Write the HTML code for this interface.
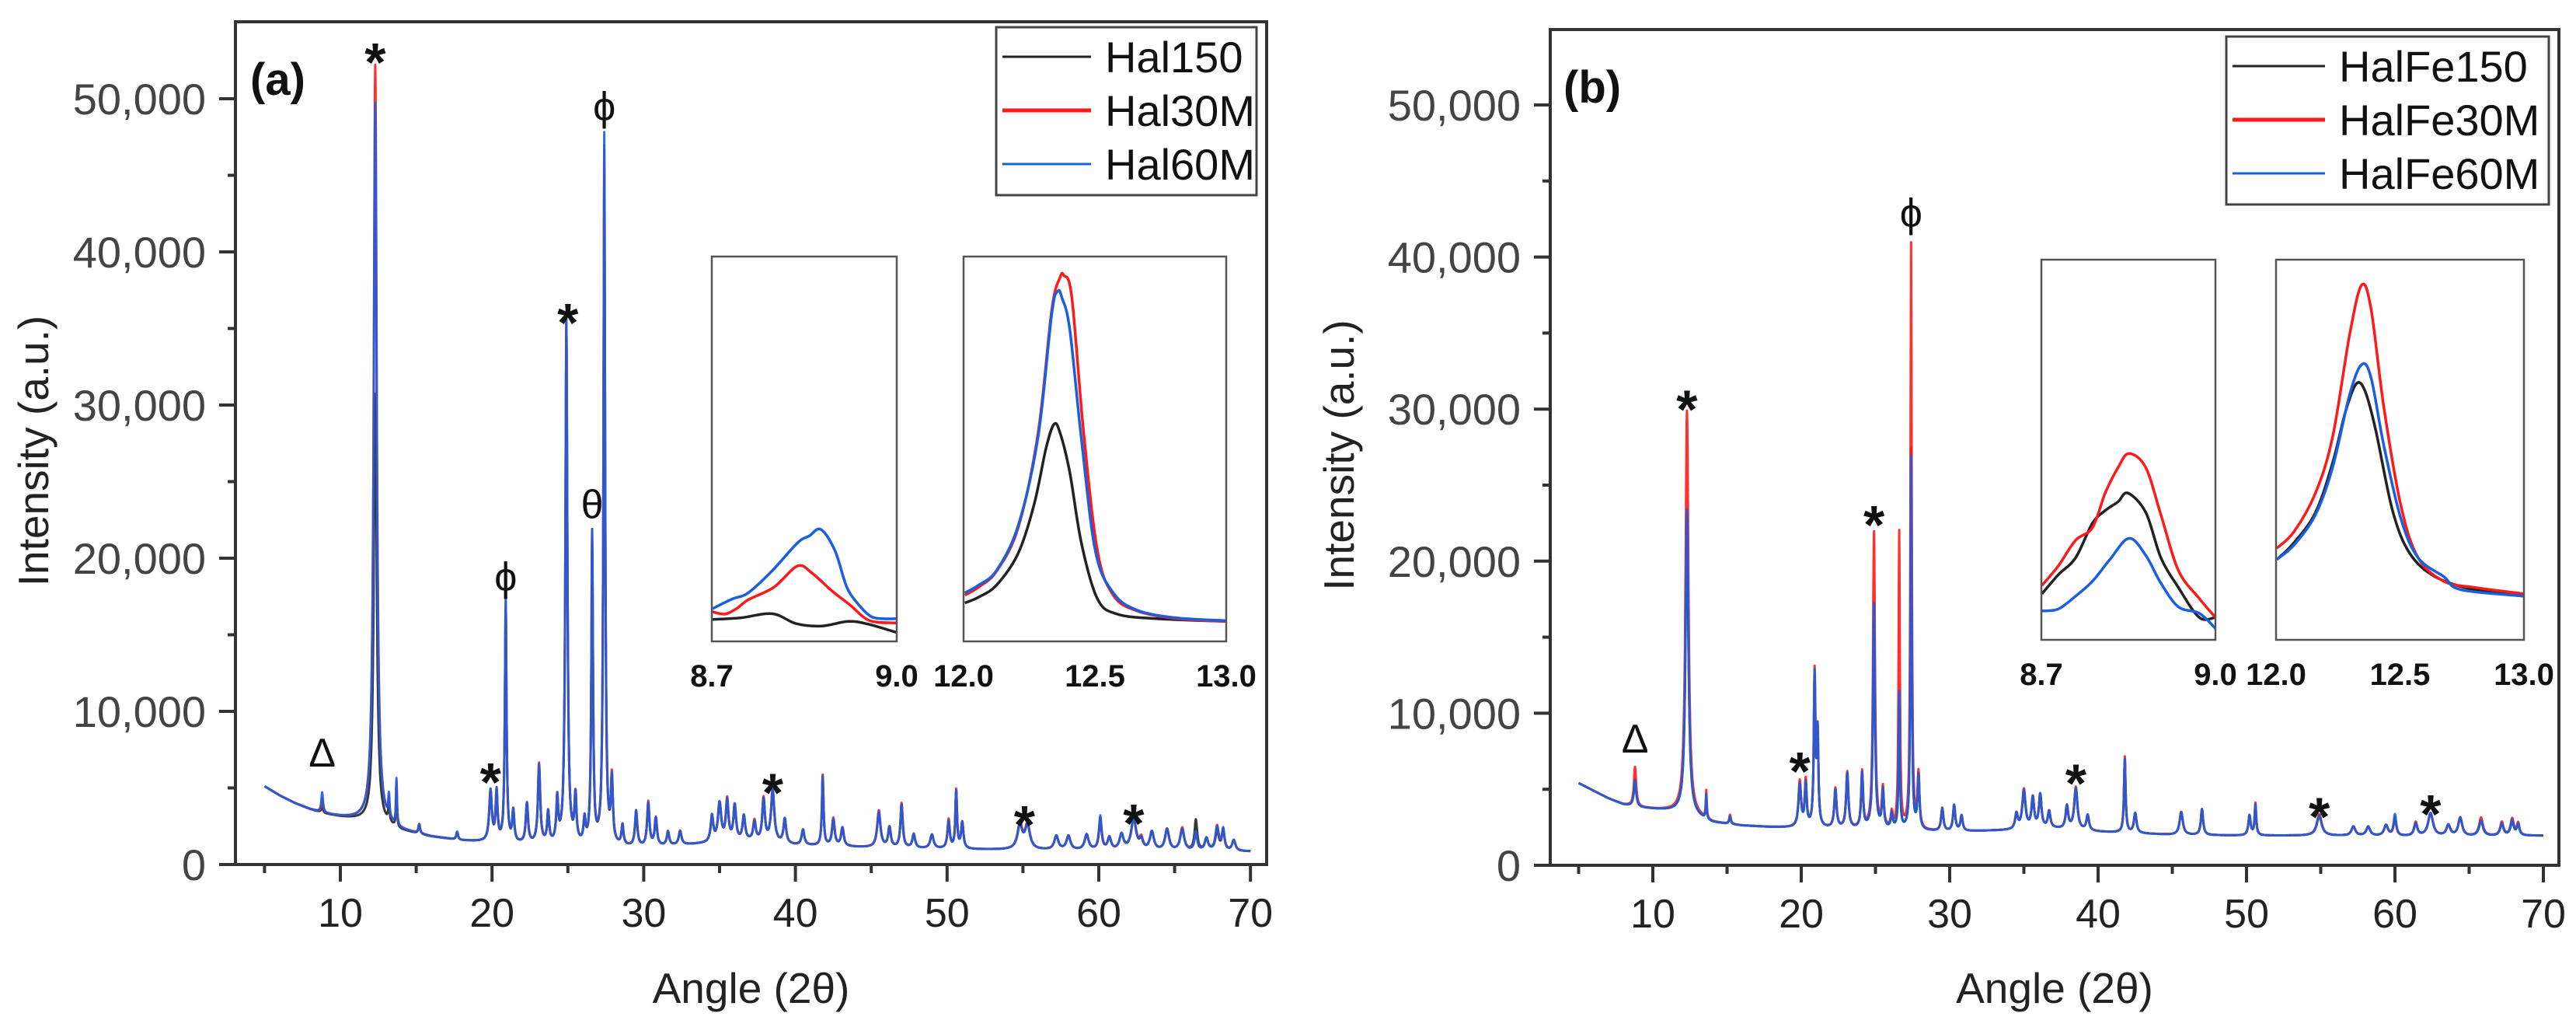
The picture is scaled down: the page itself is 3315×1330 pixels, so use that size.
<!DOCTYPE html>
<html><head><meta charset="utf-8"><style>
html,body{margin:0;padding:0;background:#fff;}
svg{display:block;font-family:"Liberation Sans",sans-serif;}
</style></head><body>
<svg id="fig" width="3315" height="1330" viewBox="0 0 3315 1330" xmlns="http://www.w3.org/2000/svg"></svg>
<script>
// ===== Panel (a) data =====
const posA=[8.8,12.3,13.2,13.7,15.2,17.7,19.9,20.3,20.9,21.4,22.3,23.1,23.7,24.3,24.9,25.5,26.1,26.6,27.4,27.9,28.6,29.5,30.3,30.8,31.6,32.4,34.5,35.0,35.5,36.0,36.6,37.3,37.9,38.5,39.3,40.5,41.8,42.5,43.1,45.5,46.2,47.0,47.8,49.0,50.1,50.6,51.0,54.8,55.3,57.2,58.0,59.2,60.1,60.7,61.5,62.3,62.8,63.5,64.5,65.5,66.4,67.1,67.8,68.2,68.9];
const widA=[0.05,0.09,0.04,0.03,0.05,0.05,0.08,0.06,0.05,0.06,0.07,0.07,0.06,0.06,0.06,0.06,0.06,0.05,0.05,0.06,0.06,0.07,0.07,0.07,0.07,0.08,0.08,0.1,0.08,0.08,0.08,0.08,0.08,0.1,0.08,0.08,0.05,0.08,0.08,0.1,0.08,0.07,0.08,0.1,0.07,0.05,0.07,0.15,0.15,0.12,0.12,0.12,0.08,0.1,0.12,0.15,0.1,0.12,0.12,0.12,0.08,0.1,0.1,0.08,0.1];
const blackA=[400,28000,1200,2500,600,500,3200,3000,15000,2000,2500,5000,2000,2700,33500,3000,1500,19500,44000,4000,1300,2200,2800,1800,900,900,1600,2400,2600,2300,1600,1200,2700,3300,1600,1000,4400,1700,1200,2300,1300,2800,900,900,1800,3700,1700,1500,1500,900,900,1000,2000,800,1000,2000,600,1200,1400,1400,2000,800,1300,1300,700];
const redA=[900,49500,1200,2800,600,500,3300,3200,15600,2000,2600,5200,2000,2800,34500,3000,1500,20300,45500,4200,1300,2300,2900,1800,900,900,1700,2500,2700,2300,1600,1300,2800,3400,1600,1000,4600,1800,1200,2400,1300,2900,900,900,1900,3800,1700,1600,1600,900,900,1000,2000,800,1000,2100,700,1200,1400,1500,1200,800,1600,1300,700];
const blueA=[1300,47000,1500,3000,600,500,3300,3200,15800,2000,2600,5100,2000,2800,34300,3000,1500,20300,46400,4000,1300,2300,2800,1800,900,900,1700,2500,2600,2300,1600,1200,2700,3400,1600,1000,4500,1700,1200,2300,1300,2800,900,900,1800,3700,1700,1500,1500,900,900,1000,2200,800,1000,2100,600,1200,1400,1400,1200,800,1500,1400,700];
const bgXA=[5,6,7,8,9,10,11,12,14,16,18,22,26,30,34,37,40,45,50,55,60,65,70];
const bgYA=[5100,4500,4000,3600,3300,3100,2950,2800,2200,1800,1550,1300,1150,1100,1350,1500,1250,1100,1000,950,900,850,850];
// ===== Panel (b) data =====
const posB=[8.8,12.3,13.6,15.2,19.9,20.3,20.9,21.1,22.3,23.1,24.1,24.9,25.5,26.1,26.6,27.4,27.9,29.5,30.3,30.8,34.5,35.0,35.6,36.1,36.7,37.9,38.5,39.3,41.8,42.5,45.6,47.0,50.2,50.6,54.9,57.2,58.2,59.4,60.0,61.4,62.4,63.6,64.4,65.8,67.2,67.9,68.3];
const widB=[0.07,0.09,0.03,0.05,0.08,0.06,0.05,0.05,0.07,0.07,0.06,0.06,0.06,0.06,0.04,0.04,0.06,0.07,0.07,0.07,0.08,0.1,0.08,0.08,0.08,0.08,0.1,0.08,0.05,0.08,0.1,0.07,0.07,0.05,0.15,0.12,0.12,0.12,0.08,0.1,0.15,0.12,0.12,0.12,0.1,0.1,0.08];
const blackB=[1800,19500,1500,500,2800,2800,9500,6000,2500,3600,3600,14800,2500,1000,8500,25000,3500,1500,1700,1000,1000,2500,2000,2200,1100,1500,2700,1000,4800,1300,1500,1700,1300,2000,1300,600,600,700,1200,800,1500,700,1200,1000,800,900,700];
const redB=[2600,26500,1800,600,3000,3000,10000,6000,2600,3700,3700,19500,2600,1000,19500,38500,3600,1500,1700,1000,1000,2600,2000,2200,1100,1500,2800,1000,5000,1300,1500,1700,1300,2100,1400,600,600,700,1200,900,1500,700,1200,1200,900,1100,800];
const blueB=[1700,20000,1600,500,2800,2800,9800,6000,2500,3600,3600,14800,2500,1000,9000,24500,3500,1500,1700,1000,1000,2500,2000,2200,1100,1500,2700,1000,4800,1300,1500,1700,1300,2000,1300,600,600,700,1400,800,1500,700,1200,1000,800,1000,700];
const bgXB=[5,6,7,8,9,10,11,12,14,16,18,22,26,30,34,37,40,45,50,55,60,65,70];
const bgYB=[5400,4900,4400,4000,3800,3700,3600,3500,2800,2600,2500,2400,2300,2200,2300,2400,2200,2000,1950,1950,1900,1900,1950];
// ===== Inset data (relative intensity 0-100) =====
const insA1X={black:[8.701,8.746,8.798,8.837,8.879,8.921,8.953,9.0],red:[8.701,8.721,8.740,8.759,8.801,8.839,8.863,8.895,8.924,8.956,9.0],blue:[8.701,8.733,8.759,8.797,8.839,8.858,8.877,8.900,8.919,8.939,8.958,8.977,9.0]};
const insA1Y={black:[5.7,6.1,7.2,4.6,4.0,5.2,4.5,2.3],red:[7.7,7.1,8.5,10.8,14.1,19.6,17.7,13.1,9.5,5.4,4.8],blue:[8.5,11.0,12.6,18.2,25.6,27.4,29.1,23.5,14.1,9.4,6.5,5.9,5.9]};
const insA2X={black:[12.005,12.057,12.125,12.208,12.269,12.314,12.344,12.367,12.404,12.449,12.510,12.585,12.736,13.0],red:[12.005,12.057,12.125,12.208,12.284,12.336,12.367,12.382,12.412,12.457,12.510,12.570,12.661,12.812,13.0],blue:[12.005,12.057,12.125,12.208,12.284,12.336,12.359,12.374,12.404,12.449,12.502,12.570,12.661,12.812,13.0]};
const insA2Y={black:[10.0,11.5,14.6,22.9,35.7,50.2,56.4,54.3,44.0,25.4,11.0,7.1,5.9,5.2],red:[12.0,14.1,18.2,29.6,54.3,86.3,94.5,95.1,89.4,54.3,23.4,12.0,7.9,5.9,5.2],blue:[12.6,14.6,18.4,30.1,53.3,85.3,91.0,89.4,81.2,52.3,23.4,12.6,8.1,6.1,5.4]};
const insB1X={black:[8.701,8.729,8.759,8.788,8.810,8.832,8.849,8.880,8.906,8.936,8.972,9.0],red:[8.701,8.729,8.759,8.788,8.810,8.832,8.851,8.880,8.906,8.936,8.972,9.0],blue:[8.701,8.729,8.759,8.788,8.818,8.851,8.880,8.906,8.936,8.972,9.0]};
const insB1Y={black:[12.1,17.1,21.6,30.7,34.0,36.3,38.6,33.5,21.6,13.8,5.9,5.9],red:[14.3,19.4,26.2,29.5,38.6,45.3,49.0,45.3,32.9,18.3,10.9,5.9],blue:[7.6,8.1,11.5,15.4,21.1,26.7,22.2,14.9,8.7,7.0,3.0]};
const insB2X={black:[12.003,12.073,12.159,12.228,12.280,12.323,12.358,12.401,12.470,12.539,12.642,12.798,13.0],red:[12.003,12.073,12.159,12.228,12.297,12.345,12.383,12.435,12.504,12.573,12.677,12.798,13.0],blue:[12.003,12.073,12.159,12.228,12.297,12.345,12.383,12.435,12.504,12.573,12.677,12.746,13.0]};
const insB2Y={black:[21.1,25.6,33.5,46.5,60.0,67.3,65.6,55.5,34.0,22.8,16.6,13.2,11.5],red:[24.1,28.5,38.6,53.3,80.3,93.3,87.1,61.1,35.2,21.6,15.4,13.8,12.1],blue:[21.1,25.0,32.9,45.3,64.5,72.4,69.0,51.0,31.8,21.6,16.6,13.2,11.5]};
const xTicks=[10,20,30,40,50,60,70];
const yTicks=[0,10000,20000,30000,40000,50000];
const yTickLabels=["0","10,000","20,000","30,000","40,000","50,000"];

const NS="http://www.w3.org/2000/svg";
const svg=document.getElementById('fig');
const COL={black:'#222222',red:'#ff1a1a',blue:'#1a5fe0'};
function el(tag,attrs,parent){const e=document.createElementNS(NS,tag);for(const k in attrs)e.setAttribute(k,attrs[k]);(parent||svg).appendChild(e);return e;}
function interp(xs,ys,x){if(x<=xs[0])return ys[0];for(let i=1;i<xs.length;i++){if(x<=xs[i]){const t=(x-xs[i-1])/(xs[i]-xs[i-1]);return ys[i-1]+t*(ys[i]-ys[i-1]);}}return ys[ys.length-1];}
// smooth path through points (Catmull-Rom)
function smooth(pts){let d='M'+pts[0][0].toFixed(1)+' '+pts[0][1].toFixed(1);
  for(let i=0;i<pts.length-1;i++){const p0=pts[Math.max(0,i-1)],p1=pts[i],p2=pts[i+1],p3=pts[Math.min(pts.length-1,i+2)];
    const c1x=p1[0]+(p2[0]-p0[0])/6,c1y=p1[1]+(p2[1]-p0[1])/6,c2x=p2[0]-(p3[0]-p1[0])/6,c2y=p2[1]-(p3[1]-p1[1])/6;
    d+='C'+c1x.toFixed(1)+' '+c1y.toFixed(1)+' '+c2x.toFixed(1)+' '+c2y.toFixed(1)+' '+p2[0].toFixed(1)+' '+p2[1].toFixed(1);}
  return d;}

function panel(cfg){
  const g=el('g',{});
  
  
  const X=v=>cfg.x10+(v-10)*cfg.xs;
  const Y=v=>cfg.y0-v*cfg.ys;
  const names=['black','red','blue'];
  const hs={black:cfg.hb,red:cfg.hr,blue:cfg.hbl};
  names.forEach(n=>{
    let d='';
    for(let i=0;i<=3250;i++){
      const x=5+i*0.02;
      let yv=interp(cfg.bgX,cfg.bgY,x);
      for(let k=0;k<cfg.pos.length;k++){const u=(x-cfg.pos[k])/(cfg.wid[k]*1.3);yv+=hs[n][k]/(1+u*u);}
      d+=(i?'L':'M')+X(x).toFixed(1)+' '+Y(yv).toFixed(1);
    }
    const p=el('path',{d:d,fill:'none',stroke:COL[n],'stroke-width':3,'stroke-linejoin':'round','stroke-opacity':0.9},g);
    
    
  });
  const fr=el('rect',{x:cfg.L,y:cfg.T,width:cfg.R-cfg.L,height:cfg.y0-cfg.T,fill:'none',stroke:'#333','stroke-width':4},g);
  
  
  for(let v=5;v<=70;v+=5){const maj=v%10===0;el('line',{x1:X(v),x2:X(v),y1:cfg.y0,y2:cfg.y0+(maj?22:11),stroke:'#333','stroke-width':4},g);}
  xTicks.forEach(v=>{const t=el('text',{x:X(v),y:cfg.y0+80,'font-size':52,'text-anchor':'middle',fill:'#222'},g);t.textContent=v;
    
    });
  for(let v=0;v<=50000;v+=5000){const maj=v%10000===0;el('line',{x1:cfg.L-(maj?21:10),x2:cfg.L,y1:Y(v),y2:Y(v),stroke:'#333','stroke-width':4},g);}
  yTicks.forEach((v,i)=>{const t=el('text',{x:cfg.L-38,y:Y(v)+20,'font-size':56,'text-anchor':'end',fill:'#444'},g);t.textContent=yTickLabels[i];
    
    });
  const yt=el('text',{x:0,y:0,'font-size':55,'text-anchor':'middle',fill:'#222',transform:`translate(${cfg.ytx},${(cfg.T+cfg.y0)/2+10}) rotate(-90)`},g);yt.textContent='Intensity (a.u.)';
  
  
  const xt=el('text',{x:(cfg.L+cfg.R)/2,y:1290,'font-size':55,'text-anchor':'middle',fill:'#222'},g);xt.textContent='Angle (2θ)';
  
  
  const pl=el('text',{x:cfg.plx,y:cfg.ply,'font-size':58,'font-weight':'bold',fill:'#111'},g);pl.textContent=cfg.tag;
  
  
  cfg.ann.forEach(a=>{const t=el('text',{x:X(a[1]),y:Y(a[2])-8,'font-size':a[0]==='*'?70:52,'font-weight':a[0]==='*'?'bold':'normal','text-anchor':'middle',fill:'#111'},g);
    t.textContent=a[0];
    if(a[0]==='*'){t.setAttribute('dy','44');}
    
    });
  const lg=el('g',{},g);
  
  
  el('rect',{x:cfg.lgx,y:cfg.lgy,width:cfg.lgw,height:216,fill:'#fff',stroke:'#444','stroke-width':3},lg);
  names.forEach((n,i)=>{const cy=cfg.lgy+38+i*69;
    el('line',{x1:cfg.lgx+8,x2:cfg.lgx+cfg.lgl,y1:cy,y2:cy,stroke:COL[n],'stroke-width':n==='red'?5:3},lg);
    const t=el('text',{x:cfg.lgx+cfg.lgl+18,y:cy+20,'font-size':56,fill:'#111'},lg);t.textContent=cfg.labels[i];
    
    });
  cfg.insets.forEach(ins=>{
    const ig=el('g',{},g);
    
    
    const ix=v=>ins.x+(v-ins.lo)/(ins.hi-ins.lo)*ins.w;
    const iy=v=>ins.y+ins.h-v/100*ins.h;
    names.forEach(n=>{const xs=ins.X[n],ys=ins.Y[n];const pts=xs.map((xv,i)=>[ix(xv),iy(ys[i])]);
      const p=el('path',{d:smooth(pts),fill:'none',stroke:COL[n],'stroke-width':3.5,'stroke-linejoin':'round'},ig);
      
      });
    el('rect',{x:ins.x,y:ins.y,width:ins.w,height:ins.h,fill:'none',stroke:'#555','stroke-width':2.5},ig);
    ins.ticks.forEach(tv=>{const t=el('text',{x:ix(tv),y:ins.y+ins.h+58,'font-size':40,'font-weight':'bold','text-anchor':'middle',fill:'#111'},ig);t.textContent=tv.toFixed(1);
      
      });
  });
}

panel({name:'panel-a',tag:'(a)',L:303,R:1630,T:28,y0:1112,x10:438,xs:19.52,ys:197/10000,ytx:62,plx:322,ply:122,
  pos:posA,wid:widA,hb:blackA,hr:redA,hbl:blueA,bgX:bgXA,bgY:bgYA,labels:['Hal150','Hal30M','Hal60M'],
  lgx:1282,lgy:35,lgw:335,lgl:122,
  ann:[['*',12.3,53000],['ϕ',27.4,48200],['*',25.0,36000],['θ',26.6,22200],['ϕ',20.9,17500],['*',19.9,6000],['Δ',8.8,6000],['*',38.5,5300],['*',55.1,3200],['*',62.3,3300]],
  insets:[{name:'inset-8.7-9.0',x:916,y:330,w:238,h:495,lo:8.7,hi:9.0,X:insA1X,Y:insA1Y,ticks:[8.7,9.0]},
          {name:'inset-12-13',x:1240,y:330,w:338,h:495,lo:12.0,hi:13.0,X:insA2X,Y:insA2Y,ticks:[12.0,12.5,13.0]}]});
panel({name:'panel-b',tag:'(b)',L:1995,R:3293,T:38,y0:1113,x10:2127,xs:19.1,ys:195.6/10000,ytx:1742,plx:2012,ply:132,
  pos:posB,wid:widB,hb:blackB,hr:redB,hbl:blueB,bgX:bgXB,bgY:bgYB,labels:['HalFe150','HalFe30M','HalFe60M'],
  lgx:2865,lgy:47,lgw:415,lgl:127,
  ann:[['*',12.3,30600],['ϕ',27.4,41600],['*',24.9,23000],['*',19.9,6800],['Δ',8.8,7000],['*',38.5,6000],['*',54.9,3800],['*',62.4,4000]],
  insets:[{name:'inset-8.7-9.0',x:2627,y:334,w:224,h:489,lo:8.7,hi:9.0,X:insB1X,Y:insB1Y,ticks:[8.7,9.0]},
          {name:'inset-12-13',x:2929,y:334,w:319,h:489,lo:12.0,hi:13.0,X:insB2X,Y:insB2Y,ticks:[12.0,12.5,13.0]}]});
</script>
</body></html>
